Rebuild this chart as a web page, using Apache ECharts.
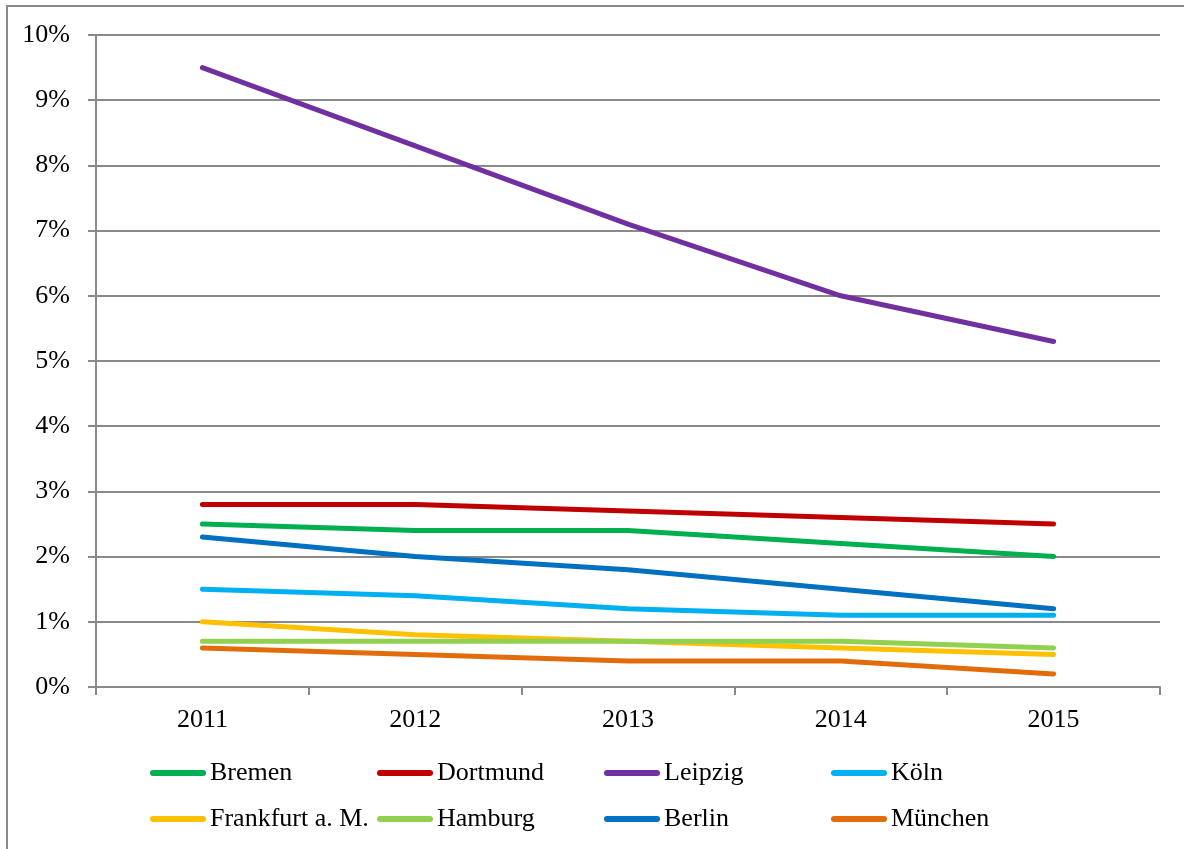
<!DOCTYPE html>
<html>
<head>
<meta charset="utf-8">
<script src="https://cdn.jsdelivr.net/npm/echarts@6/dist/echarts.min.js"></script>
<style>
  html, body { margin: 0; padding: 0; background: #fff; }
  #chart { width: 1184px; height: 849px; }
</style>
</head>
<body>
<div id="chart"></div>
<script>
// Jahre und Anteile (in %) je Stadt
const years = ['2011', '2012', '2013', '2014', '2015'];
const bremen    = [2.5, 2.4, 2.4, 2.2, 2.0];
const dortmund  = [2.8, 2.8, 2.7, 2.6, 2.5];
const leipzig   = [9.5, 8.3, 7.1, 6.0, 5.3];
const koeln     = [1.5, 1.4, 1.2, 1.1, 1.1];
const frankfurt = [1.0, 0.8, 0.7, 0.6, 0.5];
const hamburg   = [0.7, 0.7, 0.7, 0.7, 0.6];
const berlin    = [2.3, 2.0, 1.8, 1.5, 1.2];
const muenchen  = [0.6, 0.5, 0.4, 0.4, 0.2];

const cities = [
  { name: 'Bremen',          data: bremen,    color: '#00B050' },
  { name: 'Dortmund',        data: dortmund,  color: '#C00000' },
  { name: 'Leipzig',         data: leipzig,   color: '#7030A0' },
  { name: 'Köln',            data: koeln,     color: '#00B0F0' },
  { name: 'Frankfurt a. M.', data: frankfurt, color: '#FFC000' },
  { name: 'Hamburg',         data: hamburg,   color: '#92D050' },
  { name: 'Berlin',          data: berlin,    color: '#0070C0' },
  { name: 'München',         data: muenchen,  color: '#E36C0A' }
];

const FONT = '"Liberation Serif", "Times New Roman", serif';
const GRAY = '#898989';

// Legende: 4 Spalten, 2 Zeilen mit festen Spaltenabständen
const legendCols = [150, 377, 604, 831];
const legendRows = [760, 806];
const capsule = 'path://M3,0 L53,0 A3,3 0 0 1 53,6 L3,6 A3,3 0 0 1 3,0 Z';
const legends = cities.map((c, i) => ({
  data: [c.name],
  left: legendCols[i % 4],
  top: legendRows[Math.floor(i / 4)],
  padding: 0,
  itemWidth: 56,
  itemHeight: 6,
  icon: capsule,
  selectedMode: false,
  textStyle: { fontFamily: FONT, fontSize: 26, color: '#000', padding: [0, 0, 0, -1] }
}));

const chart = echarts.init(document.getElementById('chart'), null, { renderer: 'canvas' });
chart.setOption({
  backgroundColor: '#fff',
  animation: false,
  graphic: [{
    type: 'rect',
    shape: { x: 7, y: 6, width: 1300, height: 1000 },
    style: { fill: 'none', stroke: GRAY, lineWidth: 2 },
    silent: true
  }],
  legend: legends,
  grid: { left: 96, right: 24, top: 35, bottom: 162, containLabel: false },
  xAxis: {
    type: 'category',
    data: years,
    boundaryGap: true,
    axisLine: { show: true, lineStyle: { color: GRAY, width: 2 } },
    axisTick: { show: true, inside: false, length: 8, alignWithLabel: false, lineStyle: { color: GRAY, width: 2 } },
    axisLabel: { margin: 20, fontFamily: FONT, fontSize: 26, color: '#000' },
    splitLine: { show: false }
  },
  yAxis: {
    type: 'value',
    min: 0,
    max: 10,
    interval: 1,
    axisLine: { show: true, lineStyle: { color: GRAY, width: 2 } },
    axisTick: { show: true, inside: false, length: 8, lineStyle: { color: GRAY, width: 2 } },
    axisLabel: { margin: 26, fontFamily: FONT, fontSize: 26, color: '#000', formatter: '{value}%' },
    splitLine: { show: true, lineStyle: { color: GRAY, width: 2 } }
  },
  series: cities.map(c => ({
    name: c.name,
    type: 'line',
    data: c.data,
    symbol: 'none',
    showSymbol: false,
    itemStyle: { color: c.color },
    lineStyle: { color: c.color, width: 5, cap: 'round', join: 'round' }
  }))
});
</script>
</body>
</html>
